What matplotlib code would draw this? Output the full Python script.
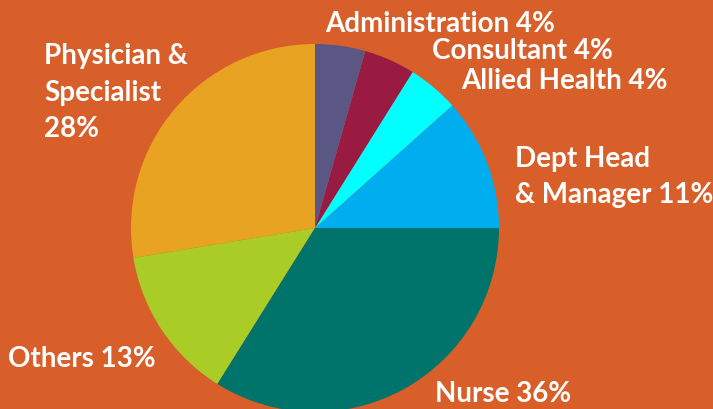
import matplotlib.pyplot as plt

# wedge shares (start at 3 o'clock, counter-clockwise)
categories = ["Dept Head & Manager", "Allied Health", "Consultant", "Administration",
              "Physician & Specialist", "Others", "Nurse"]
shares = [11.6, 4.5, 4.5, 4.4, 27.6, 13.5, 33.9]
colors = ["#00AEEF", "#00FFFF", "#9A1B42", "#5A5784", "#E9A322", "#A9CC26", "#00736A"]

# label texts as printed on the chart
label_texts = ["Dept Head\n& Manager 11%", "Allied Health 4%", "Consultant 4%",
               "Administration 4%", "Physician &\nSpecialist\n28%", "Others 13%", "Nurse 36%"]
# label anchor (left edge x, centre y of first line) in pixels
label_pos = [(515, 160), (461, 82), (432, 52), (325, 25), (44, 57), (8, 360), (435, 395)]

bg = "#D95F2A"
W, H = 713, 410
fig = plt.figure(figsize=(W / 100, H / 100), dpi=100, facecolor=bg)

cx, cy, r = 315, 229, 184
ax = fig.add_axes([(cx - r) / W, (H - cy - r) / H, 2 * r / W, 2 * r / H])
ax.pie(shares, colors=colors, startangle=0, counterclock=True,
       wedgeprops=dict(linewidth=0))
ax.set_xlim(-1, 1)
ax.set_ylim(-1, 1)
ax.set_aspect("equal")
ax.axis("off")

for txt, (x, y) in zip(label_texts, label_pos):
    fig.text(x / W, 1 - (y - 14) / H, txt, color="white", fontsize=20,
             fontweight="bold", family="Lato", ha="left", va="top",
             linespacing=1.5)

fig.savefig("out.png", dpi=100, facecolor=bg)
